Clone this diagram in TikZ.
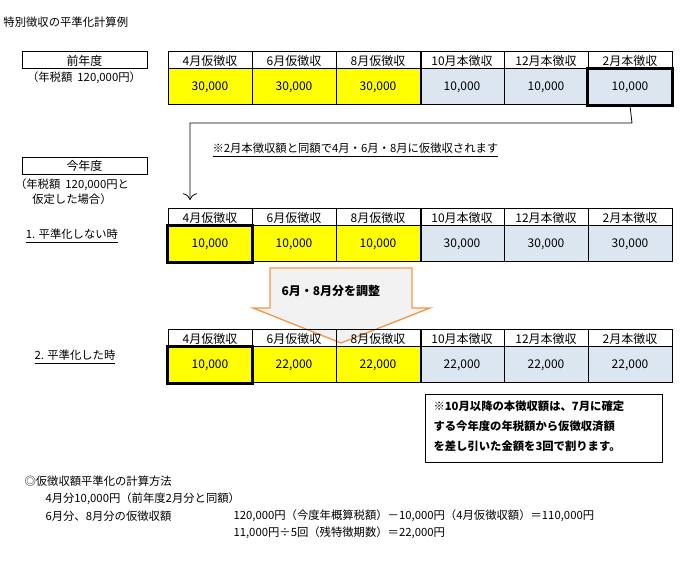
\documentclass[tikz,border=0pt]{standalone}
\usepackage{fontspec}
\setmainfont{Noto Sans CJK JP}
\usetikzlibrary{positioning,arrows.meta}
\definecolor{kiiro}{RGB}{255,255,0}
\definecolor{aoi}{RGB}{220,230,241}
\definecolor{daidai}{RGB}{247,150,70}
\tikzset{every picture/.style={line width=0.75pt}}
\tikzset{
  headcell/.style={draw, minimum width=84pt*0.75, minimum height=17pt*0.75, inner sep=0pt, font=\fontsize{9}{9}\selectfont},
  valcell/.style={draw, minimum width=84pt*0.75, minimum height=36pt*0.75, inner sep=0pt, font=\fontsize{9}{9}\selectfont},
  labelbox/.style={draw, minimum width=125pt*0.75, minimum height=17pt*0.75, inner sep=0pt, font=\fontsize{9}{9}\selectfont},
  plain/.style={font=\fontsize{8.5}{11}\selectfont, inner sep=0pt}
}
\newcommand{\zeitable}[8]{% #1 name, #2 top y, #3..#8 values
  \foreach \mon/\kind [count=\i] in {4/仮,6/仮,8/仮,10/本,12/本,2/本}{
    \node[headcell] (#1h\i) at (168+84*\i-42, #2+8.5) {\mon 月\kind 徴収};
  }
  \foreach \val [count=\i] in {{#3},{#4},{#5},{#6},{#7},{#8}}{
    \ifnum\i<4 \def\fillc{kiiro}\else\def\fillc{aoi}\fi
    \node[valcell, fill=\fillc] (#1v\i) at (168+84*\i-42, #2+35) {\val};
  }
  \draw[line width=1.5pt] (#1h3.north east) -- (#1v3.south east);
}
\begin{document}
\begin{tikzpicture}[x=0.75pt,y=0.75pt,yscale=-1,xscale=1]
\useasboundingbox (0,0) rectangle (690,574);

% title
\node[plain, anchor=west] (title) at (3,22) {特別徴収の平準化計算例};

% previous year
\node[labelbox] (prev) at (84.5,60.5) {前年度};
\node[plain] (prevtax) at (84,78) {（年税額\ \ 120,000円）};
\zeitable{a}{52}{30,000}{30,000}{30,000}{10,000}{10,000}{10,000}
\draw[line width=1.6pt] (av6.north west) rectangle (av6.south east);

% connector
\coordinate (bend1) at (632,123);
\coordinate (bend2) at (190,123);
\coordinate (arrend) at (190,200);
\draw[-{To[length=5pt]}, line width=0.6pt] (av6.south) -- (bend1) -- (bend2) -- (arrend);
\node[plain, anchor=west] (note1) at (212,150) {\underline{※2月本徴収額と同額で4月・6月・8月に仮徴収されます}};

% this year
\node[labelbox] (cur) at (84.5,166) {今年度};
\node[plain, align=center] (curtax) at (72,192) {（年税額\ \ 120,000円と\\仮定した場合）};
\node[plain] (case1) at (72,236) {\underline{1. 平準化しない時}};
\zeitable{b}{209}{10,000}{10,000}{10,000}{30,000}{30,000}{30,000}
\draw[line width=1.6pt] (bv1.north west) rectangle (bv1.south east);

% adjust arrow
\draw[daidai, fill=black!5, line width=1pt] (270,268) -- (412,268) -- (412,308) -- (430,308) -- (341,343) -- (253,308) -- (270,308) -- cycle;
\node[plain, font=\fontsize{9}{9}\selectfont\bfseries, anchor=west] (adjust) at (281,291) {6月・8月分を調整};

\node[plain] (case2) at (75,357) {\underline{2. 平準化した時}};
\zeitable{c}{330}{10,000}{22,000}{22,000}{22,000}{22,000}{22,000}
\draw[line width=1.6pt] (cv1.north west) rectangle (cv1.south east);

% note box
\node[draw, minimum width=237pt*0.75, minimum height=67pt*0.75, inner sep=0pt] (notebox) at (543.5,428.5) {};
\node[plain, font=\fontsize{8.5}{15}\selectfont\bfseries, align=left, anchor=north west] (notetext) at (433,400)
  {※10月以降の本徴収額は、7月に確定\\する今年度の年税額から仮徴収済額\\を差し引いた金額を3回で割ります。};

% method
\node[plain, anchor=west] (method) at (24,481) {◎仮徴収額平準化の計算方法};
\node[plain, anchor=west] (m1) at (45,499) {4月分10,000円（前年度2月分と同額）};
\node[plain, anchor=west] (m2) at (45,516) {6月分、8月分の仮徴収額};
\node[plain, anchor=west] (m3) at (233,516) {120,000円（今度年概算税額）－10,000円（4月仮徴収額）＝110,000円};
\node[plain, anchor=west] (m4) at (233,533) {11,000円÷5回（残特徴期数）＝22,000円};
\end{tikzpicture}
\end{document}
